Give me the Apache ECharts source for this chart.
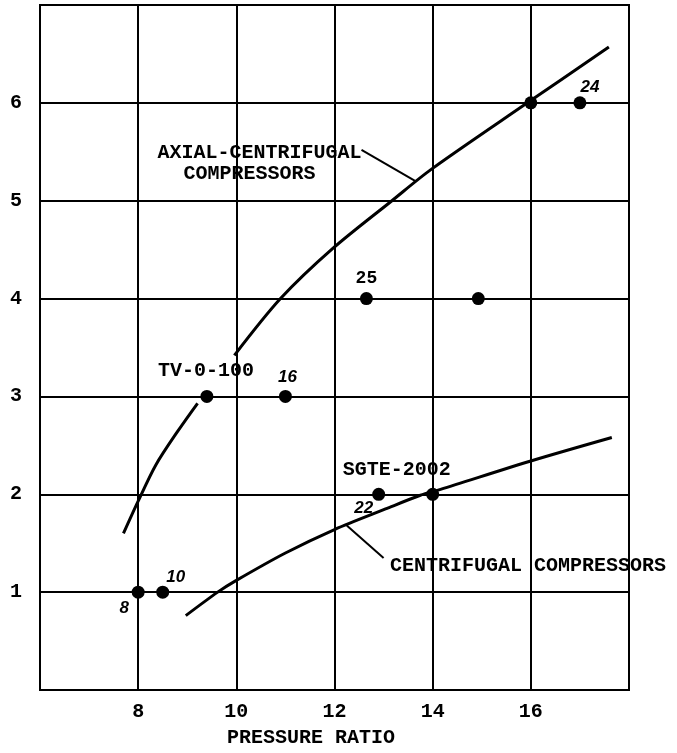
<!DOCTYPE html>
<html>
<head>
<meta charset="utf-8">
<script src="https://cdn.jsdelivr.net/npm/echarts@6/dist/echarts.min.js"></script>
<style>
html,body{margin:0;padding:0;background:#fff;}
#chart{width:677px;height:753px;}
</style>
</head>
<body>
<div id="chart"></div>
<script>
// ---- data ----
const xTickLabels = [8, 10, 12, 14, 16];
const yTickLabels = [1, 2, 3, 4, 5, 6];

// engine data points
const pointX = [8, 8.5, 9.4, 11.0, 12.65, 14.93, 12.9, 14.0, 16.0, 17.0];
const pointY = [1, 1, 3, 3, 4, 4, 2, 2, 6, 6];
const pointNum = ['8', '10', '', '16', '25', '', '22', '', '', '24'];
const pointName = ['', '', 'TV-0-100', '', '', '', 'SGTE-2002', '', '', ''];

// axial-centrifugal compressors curve (two pieces)
const axialLowX = [7.7, 8.0, 8.36, 8.8, 9.21];
const axialLowY = [1.6, 1.93, 2.30, 2.64, 2.93];
const axialHighX = [9.96, 10.9, 11.96, 13.17, 13.97, 15.93, 17.59];
const axialHighY = [3.42, 4.0, 4.51, 5.0, 5.32, 6.0, 6.57];

// centrifugal compressors curve
const centX = [8.97, 9.62, 10.0, 11.0, 12.0, 13.04, 13.75, 14.16, 16.0, 17.65];
const centY = [0.76, 1.0, 1.12, 1.40, 1.64, 1.85, 1.99, 2.05, 2.34, 2.58];

// annotation text and leader lines
const annotText = ['AXIAL-CENTRIFUGAL', 'COMPRESSORS', 'CENTRIFUGAL COMPRESSORS'];
const annotX = [10.47, 10.27, 13.13];
const annotY = [5.49, 5.27, 1.27];
const leaderAxialX = [12.55, 13.65];
const leaderAxialY = [5.52, 5.2];
const leaderCentX = [13.0, 12.25];
const leaderCentY = [1.35, 1.68];

// ---- styles ----
const MONO = '"Liberation Mono", "DejaVu Sans Mono", monospace';
const HAND = '"Liberation Sans", "DejaVu Sans", sans-serif';
const INK = '#000';
const numOffsets = {0: [-14, 16], 1: [13, -15], 3: [2, -19], 4: [0, -20], 6: [-15, 14], 9: [10, -16]};
const nameOffsets = {2: [-1, -25], 6: [18, -24]};
const annotAlign = ['center', 'center', 'left'];

const zip = (xs, ys) => xs.map((x, i) => [x, ys[i]]);

const dotData = zip(pointX, pointY);
const numData = [];
pointNum.forEach((t, i) => {
  if (!t) return;
  const upright = (t === '25');
  numData.push({
    value: [pointX[i], pointY[i]],
    label: {
      show: true, formatter: t, position: 'inside', offset: numOffsets[i],
      fontFamily: upright ? MONO : HAND,
      fontStyle: upright ? 'normal' : 'italic',
      fontWeight: 'bold',
      fontSize: upright ? 18 : 17, color: INK
    }
  });
});
const nameData = [];
pointName.forEach((t, i) => {
  if (!t) return;
  nameData.push({
    value: [pointX[i], pointY[i]],
    label: {
      show: true, formatter: t, position: 'inside', offset: nameOffsets[i],
      fontFamily: MONO, fontWeight: 'bold', fontSize: 20, color: INK
    }
  });
});
const annotData = annotText.map((t, i) => ({
  value: [annotX[i], annotY[i]],
  label: {
    show: true, formatter: t, position: 'inside', align: annotAlign[i],
    verticalAlign: 'middle',
    fontFamily: MONO, fontWeight: 'bold', fontSize: 20, color: INK
  }
}));

const lineSeries = (data, width, smooth) => ({
  type: 'line', data: data, smooth: smooth, symbol: 'none', silent: true,
  lineStyle: {color: INK, width: width}, z: 3
});
const textSeries = (data) => ({
  type: 'scatter', data: data, symbolSize: 0, z: 6, silent: true,
  itemStyle: {opacity: 1}
});

const chart = echarts.init(document.getElementById('chart'), null, {renderer: 'canvas'});
chart.setOption({
  animation: false,
  backgroundColor: '#fff',
  grid: {left: 40, right: 48, top: 5, bottom: 61, show: true, borderColor: INK, borderWidth: 2, backgroundColor: 'transparent'},
  xAxis: {
    type: 'value', min: 6, max: 18, interval: 2,
    name: 'PRESSURE RATIO', nameLocation: 'middle', nameGap: 38,
    nameTextStyle: {fontFamily: MONO, fontWeight: 'bold', fontSize: 20, color: INK, padding: [0, 47, 0, 0]},
    axisLine: {show: false}, axisTick: {show: false},
    axisLabel: {
      margin: 12, fontFamily: MONO, fontWeight: 'bold', fontSize: 20, color: INK,
      formatter: v => xTickLabels.includes(v) ? String(v) : ''
    },
    splitLine: {show: true, lineStyle: {color: INK, width: 2}}
  },
  yAxis: {
    type: 'value', min: 0, max: 7, interval: 1,
    axisLine: {show: false}, axisTick: {show: false},
    axisLabel: {
      margin: 18, fontFamily: MONO, fontWeight: 'bold', fontSize: 20, color: INK,
      formatter: v => yTickLabels.includes(v) ? String(v) : ''
    },
    splitLine: {show: true, lineStyle: {color: INK, width: 2}}
  },
  series: [
    lineSeries(zip(axialLowX, axialLowY), 3, 0.3),
    lineSeries(zip(axialHighX, axialHighY), 3, 0.3),
    lineSeries(zip(centX, centY), 3, 0.3),
    lineSeries(zip(leaderAxialX, leaderAxialY), 2, false),
    lineSeries(zip(leaderCentX, leaderCentY), 2, false),
    {type: 'scatter', data: dotData, symbol: 'circle', symbolSize: 13, itemStyle: {color: INK, opacity: 1}, z: 5, silent: true},
    textSeries(numData),
    textSeries(nameData),
    textSeries(annotData)
  ]
});
</script>
</body>
</html>
